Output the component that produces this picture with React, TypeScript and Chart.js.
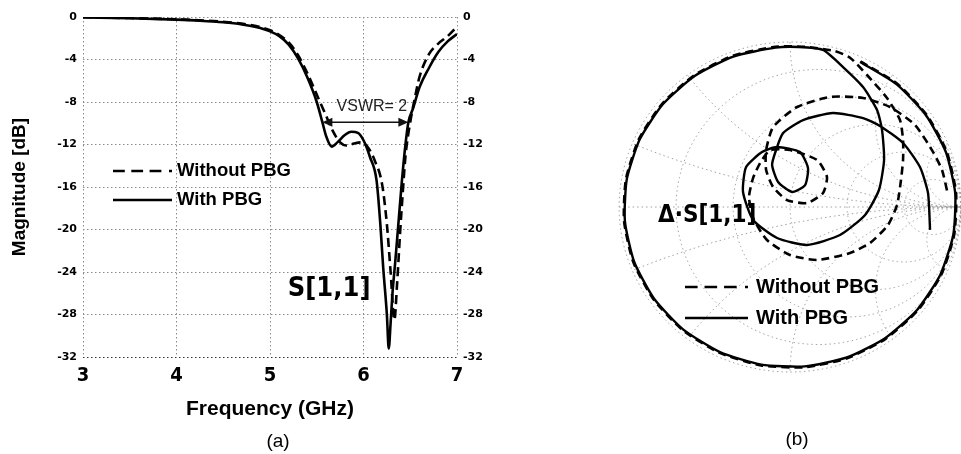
import React, { useEffect, useRef } from "react";
import { Chart, registerables } from "chart.js";

Chart.register(...registerables);

// ---------------- (a) |S11| versus frequency ----------------
const freqWithPBG = [3.0, 3.5, 4.0, 4.25, 4.5, 4.7, 4.85, 5.0, 5.1, 5.2, 5.3, 5.4, 5.5, 5.56, 5.6, 5.66, 5.72, 5.8, 5.87, 5.94, 6.0, 6.07, 6.14, 6.18, 6.21, 6.25, 6.27, 6.29, 6.31, 6.34, 6.37, 6.41, 6.45, 6.48, 6.53, 6.6, 6.7, 6.8, 6.9, 7.0];
const s11WithPBG = [-0.05, -0.12, -0.25, -0.35, -0.5, -0.7, -0.95, -1.35, -1.8, -2.6, -3.9, -5.7, -8.0, -9.9, -11.2, -12.2, -11.8, -11.1, -10.8, -10.9, -11.6, -13.2, -15.4, -19.5, -23.5, -28.0, -31.2, -28.8, -26.0, -23.0, -19.8, -15.5, -11.9, -9.9, -8.6, -6.6, -4.8, -3.3, -2.3, -1.6];

const freqWithoutPBG = [3.0, 3.5, 4.0, 4.5, 4.85, 5.0, 5.1, 5.2, 5.3, 5.4, 5.5, 5.6, 5.67, 5.75, 5.82, 5.9, 5.97, 6.05, 6.12, 6.2, 6.25, 6.29, 6.33, 6.36, 6.39, 6.42, 6.45, 6.5, 6.55, 6.6, 6.7, 6.8, 6.9, 7.0];
const s11WithoutPBG = [0.0, -0.1, -0.22, -0.45, -0.85, -1.25, -1.7, -2.4, -3.6, -5.3, -7.3, -9.3, -10.7, -11.8, -12.1, -11.9, -11.8, -12.3, -13.5, -15.8, -19.5, -24.0, -28.5, -25.0, -20.5, -16.5, -13.0, -9.9, -7.6, -5.6, -3.5, -2.5, -1.8, -0.9];

const freqTicks = [3, 4, 5, 6, 7];
const dbTicks = [0, -4, -8, -12, -16, -20, -24, -28, -32];
const seriesNames = ["Without PBG", "With PBG"];

// VSWR = 2 bandwidth marker (GHz, dB)
const vswrStartEnd = [5.56, 6.48];
const vswrLevel = [-9.9];

// ---------------- (b) Smith chart, reflection coefficient (Re, Im) ----------------
const smithReWith = [0.410, 0.624, 0.795, 0.912, 0.966, 0.955, 0.879, 0.743, 0.556, 0.332, 0.085, -0.168, -0.410, -0.624, -0.795, -0.912, -0.966, -0.955, -0.879, -0.743, -0.556, -0.332, -0.085, 0.050,
  0.193, 0.310, 0.427, 0.509, 0.538, 0.550, 0.520, 0.439, 0.292, 0.099, -0.076, -0.216, -0.275, -0.257, -0.164, -0.076,
  0.058, 0.105, 0.088, 0.012, -0.070, -0.105, -0.082,
  -0.041, 0.076, 0.251, 0.427, 0.526, 0.661, 0.760, 0.807, 0.819];
const smithImWith = [0.879, 0.743, 0.556, 0.332, 0.085, -0.168, -0.410, -0.624, -0.795, -0.912, -0.966, -0.955, -0.879, -0.743, -0.556, -0.332, -0.085, 0.168, 0.410, 0.624, 0.795, 0.912, 0.966, 0.970,
  0.952, 0.848, 0.727, 0.588, 0.467, 0.285, 0.103, -0.048, -0.170, -0.230, -0.188, -0.079, 0.091, 0.242, 0.333, 0.364,
  0.333, 0.236, 0.133, 0.091, 0.152, 0.255, 0.345,
  0.448, 0.527, 0.570, 0.539, 0.491, 0.388, 0.242, 0.085, -0.139];

const smithReWithout = [0.412, 0.627, 0.799, 0.917, 0.971, 0.960, 0.884, 0.747, 0.559, 0.334, 0.085, -0.169, -0.412, -0.627, -0.799, -0.917, -0.971, -0.960, -0.884, -0.747, -0.559, -0.334, -0.085, 0.085,
  0.263, 0.351, 0.450, 0.567, 0.643, 0.661, 0.661, 0.649, 0.626, 0.573, 0.468, 0.351, 0.158, 0.000, -0.135, -0.216, -0.240, -0.216, -0.175, -0.117,
  0.000, 0.158, 0.216, 0.193, 0.099, -0.018, -0.099, -0.140, -0.140,
  -0.099, 0.041, 0.234, 0.427, 0.585, 0.731, 0.830, 0.889, 0.924];
const smithImWithout = [0.883, 0.747, 0.559, 0.334, 0.085, -0.169, -0.412, -0.627, -0.799, -0.917, -0.971, -0.960, -0.884, -0.747, -0.559, -0.334, -0.085, 0.169, 0.412, 0.627, 0.799, 0.917, 0.971, 0.971,
  0.945, 0.905, 0.800, 0.661, 0.527, 0.406, 0.285, 0.164, 0.012, -0.109, -0.218, -0.279, -0.321, -0.291, -0.200, -0.067, 0.061, 0.176, 0.267, 0.345,
  0.345, 0.285, 0.182, 0.085, 0.024, 0.042, 0.121, 0.224, 0.345,
  0.485, 0.606, 0.667, 0.661, 0.606, 0.497, 0.345, 0.224, 0.073];

// Smith chart grid: constant resistance circles and constant reactance arcs
const smithResistances = [0.2, 0.5, 1, 2, 5];
const smithReactances = [0.2, 0.5, 1, 2, 5, -0.2, -0.5, -1, -2, -5];

const SANS = '"Liberation Sans", Arial, Helvetica, sans-serif';
const NARROW = '"Liberation Sans Narrow", "DejaVu Sans Condensed", "Arial Narrow", sans-serif';
const DEJAVU = '"DejaVu Sans", Verdana, sans-serif';

function drawLegend(ctx: CanvasRenderingContext2D, x0: number, x1: number, yDash: number, ySolid: number, tx: number, size: number) {
  ctx.save();
  ctx.strokeStyle = "#000";
  ctx.lineWidth = 2.6;
  const seg = (x1 - x0) / 5;
  // three dashes and a dot
  ctx.beginPath();
  for (let i = 0; i < 3; i++) {
    const s = x0 + i * seg * 1.55;
    ctx.moveTo(s, yDash);
    ctx.lineTo(s + seg, yDash);
  }
  ctx.moveTo(x1 - 3, yDash);
  ctx.lineTo(x1, yDash);
  ctx.stroke();
  ctx.beginPath();
  ctx.moveTo(x0, ySolid);
  ctx.lineTo(x1, ySolid);
  ctx.stroke();
  ctx.fillStyle = "#000";
  ctx.font = `bold ${size}px ${SANS}`;
  ctx.textAlign = "left";
  ctx.textBaseline = "middle";
  ctx.fillText(seriesNames[0], tx, yDash);
  ctx.fillText(seriesNames[1], tx, ySolid);
  ctx.restore();
}

const annotA = {
  id: "annotA",
  afterDatasetsDraw(chart: any) {
    const { ctx, scales } = chart;
    const xs = scales.x;
    const ys = scales.y;
    ctx.save();
    // legend
    drawLegend(ctx, 113, 172, 171, 200, 177, 18.5);

    // VSWR arrow
    const xa = xs.getPixelForValue(vswrStartEnd[0]);
    const xb = xs.getPixelForValue(vswrStartEnd[1]);
    const ya = ys.getPixelForValue(vswrLevel[0]);
    ctx.strokeStyle = "#111";
    ctx.fillStyle = "#111";
    ctx.lineWidth = 1.6;
    ctx.beginPath();
    ctx.moveTo(xa + 6, ya);
    ctx.lineTo(xb - 6, ya);
    ctx.stroke();
    const head = (x: number, dir: number) => {
      ctx.beginPath();
      ctx.moveTo(x, ya);
      ctx.lineTo(x + dir * 10, ya - 4.5);
      ctx.lineTo(x + dir * 10, ya + 4.5);
      ctx.closePath();
      ctx.fill();
    };
    head(xa, 1);
    head(xb, -1);
    ctx.font = `16px ${SANS}`;
    ctx.textAlign = "center";
    ctx.textBaseline = "middle";
    ctx.fillStyle = "#222";
    ctx.fillText("VSWR= 2", xs.getPixelForValue(6.09), ys.getPixelForValue(-8.45));

    // S[1,1] label
    ctx.fillStyle = "#000";
    ctx.font = `bold 27px ${NARROW}`;
    ctx.textAlign = "left";
    ctx.fillText("S[1,1]", xs.getPixelForValue(5.19), ys.getPixelForValue(-25.6));

    // (a)
    ctx.font = `19px ${SANS}`;
    ctx.textAlign = "center";
    ctx.fillText("(a)", 278, 442);
    ctx.restore();
  },
};

const smithGrid = {
  id: "smithGrid",
  beforeDatasetsDraw(chart: any) {
    const { ctx, scales } = chart;
    const xs = scales.x;
    const ys = scales.y;
    const px = (re: number) => xs.getPixelForValue(re);
    const py = (im: number) => ys.getPixelForValue(im);
    ctx.save();
    ctx.strokeStyle = "#a0a0a0";
    ctx.lineWidth = 1;
    ctx.setLineDash([1.5, 3]);
    const circle = (cx: number, cy: number, r: number, clip: boolean) => {
      ctx.beginPath();
      let pen = false;
      for (let k = 0; k <= 720; k++) {
        const t = (k / 720) * Math.PI * 2;
        const re = cx + r * Math.cos(t);
        const im = cy + r * Math.sin(t);
        const inside = !clip || re * re + im * im <= 1.0001;
        if (inside) {
          if (pen) ctx.lineTo(px(re), py(im));
          else ctx.moveTo(px(re), py(im));
          pen = true;
        } else pen = false;
      }
      ctx.stroke();
    };
    circle(0, 0, 1, false);
    smithResistances.forEach((r) => circle(r / (1 + r), 0, 1 / (1 + r), false));
    smithReactances.forEach((xv) => circle(1, 1 / xv, 1 / Math.abs(xv), true));
    ctx.beginPath();
    ctx.moveTo(px(-1), py(0));
    ctx.lineTo(px(1), py(0));
    ctx.stroke();
    ctx.restore();
  },
};

const annotB = {
  id: "annotB",
  afterDatasetsDraw(chart: any) {
    const { ctx } = chart;
    ctx.save();
    ctx.fillStyle = "#000";
    ctx.font = `bold 24px ${NARROW}`;
    ctx.textAlign = "left";
    ctx.textBaseline = "middle";
    ctx.fillText("Δ·S[1,1]", 68, 216);
    drawLegend(ctx, 95, 158, 287, 318, 166, 20);
    ctx.font = `19px ${SANS}`;
    ctx.textAlign = "center";
    ctx.fillText("(b)", 207, 440);
    ctx.restore();
  },
};

export default function App() {
  const refA = useRef<HTMLCanvasElement>(null);
  const refB = useRef<HTMLCanvasElement>(null);

  useEffect(() => {
    const tickFont = { family: DEJAVU, size: 11, weight: "bold" as const };
    const chartA = new Chart(refA.current as HTMLCanvasElement, {
      type: "scatter",
      data: {
        datasets: [
          {
            label: seriesNames[0],
            data: freqWithoutPBG.map((f, i) => ({ x: f, y: s11WithoutPBG[i] })),
            showLine: true,
            borderColor: "#000",
            borderWidth: 2.6,
            borderDash: [9, 5],
            pointRadius: 0,
            cubicInterpolationMode: "monotone",
            yAxisID: "y",
          },
          {
            label: seriesNames[1],
            data: freqWithPBG.map((f, i) => ({ x: f, y: s11WithPBG[i] })),
            showLine: true,
            borderColor: "#000",
            borderWidth: 2.6,
            pointRadius: 0,
            cubicInterpolationMode: "monotone",
            yAxisID: "y",
          },
        ],
      },
      options: {
        animation: false,
        responsive: false,
        maintainAspectRatio: false,
        layout: { padding: { top: 17, left: 0, right: 0, bottom: 0 } },
        plugins: { legend: { display: false }, tooltip: { enabled: false } },
        scales: {
          x: {
            type: "linear",
            min: 3,
            max: 7,
            afterBuildTicks: (s: any) => {
              s.ticks = freqTicks.map((v) => ({ value: v }));
            },
            afterFit: (s: any) => {
              s.height = 97;
            },
            grid: { color: "#8c8c8c", lineWidth: 1, drawTicks: false },
            border: { display: false, dash: [1.5, 2.5] },
            ticks: { padding: 7, color: "#000", maxRotation: 0, font: { family: NARROW, size: 20, weight: "bold" } },
            title: {
              display: true,
              text: "Frequency (GHz)",
              color: "#000",
              font: { family: SANS, size: 21, weight: "bold" },
              padding: { top: 0, bottom: 32 },
            },
          },
          y: {
            type: "linear",
            position: "left",
            min: -32,
            max: 0,
            afterBuildTicks: (s: any) => {
              s.ticks = dbTicks.map((v) => ({ value: v }));
            },
            afterFit: (s: any) => {
              s.width = 83;
            },
            grid: {
              color: (c: any) => (c.tick && c.tick.value === -32 ? "#333" : "#8c8c8c"),
              lineWidth: 1,
              drawTicks: false,
            },
            border: { display: false, dash: [1.5, 2.5] },
            ticks: { padding: 6, color: "#000", font: tickFont },
            title: {
              display: true,
              text: "Magnitude [dB]",
              color: "#000",
              font: { family: SANS, size: 19, weight: "bold" },
              padding: { top: 8, bottom: 0 },
            },
          },
          y2: {
            type: "linear",
            position: "right",
            min: -32,
            max: 0,
            afterBuildTicks: (s: any) => {
              s.ticks = dbTicks.map((v) => ({ value: v }));
            },
            afterFit: (s: any) => {
              s.width = 133;
            },
            grid: { display: false, drawTicks: false },
            border: { display: false },
            ticks: { padding: 6, color: "#000", font: tickFont },
          },
        },
      } as any,
      plugins: [annotA],
    });

    const chartB = new Chart(refB.current as HTMLCanvasElement, {
      type: "scatter",
      data: {
        datasets: [
          {
            label: seriesNames[0],
            data: smithReWithout.map((r, i) => ({ x: r, y: smithImWithout[i] })),
            showLine: true,
            borderColor: "#000",
            borderWidth: 2.6,
            borderDash: [8, 5],
            pointRadius: 0,
            tension: 0.2,
          },
          {
            label: seriesNames[1],
            data: smithReWith.map((r, i) => ({ x: r, y: smithImWith[i] })),
            showLine: true,
            borderColor: "#000",
            borderWidth: 2.4,
            pointRadius: 0,
            tension: 0.2,
          },
        ],
      },
      options: {
        animation: false,
        responsive: false,
        maintainAspectRatio: false,
        layout: { padding: { top: 25.5, left: 12, right: 0, bottom: 65.5 } },
        plugins: { legend: { display: false }, tooltip: { enabled: false } },
        scales: {
          x: { type: "linear", min: -1.1, max: 1.0, display: false },
          y: { type: "linear", min: -1.1, max: 1.1, display: false },
        },
      } as any,
      plugins: [smithGrid, annotB],
    });

    return () => {
      chartA.destroy();
      chartB.destroy();
    };
  }, []);

  return (
    <div style={{ position: "absolute", left: 0, top: 0, width: 961, height: 454, background: "#fff", overflow: "hidden" }}>
      <canvas ref={refA} width={590} height={454} style={{ position: "absolute", left: 0, top: 0, width: 590, height: 454 }} />
      <canvas ref={refB} width={371} height={454} style={{ position: "absolute", left: 590, top: 0, width: 371, height: 454 }} />
    </div>
  );
}
